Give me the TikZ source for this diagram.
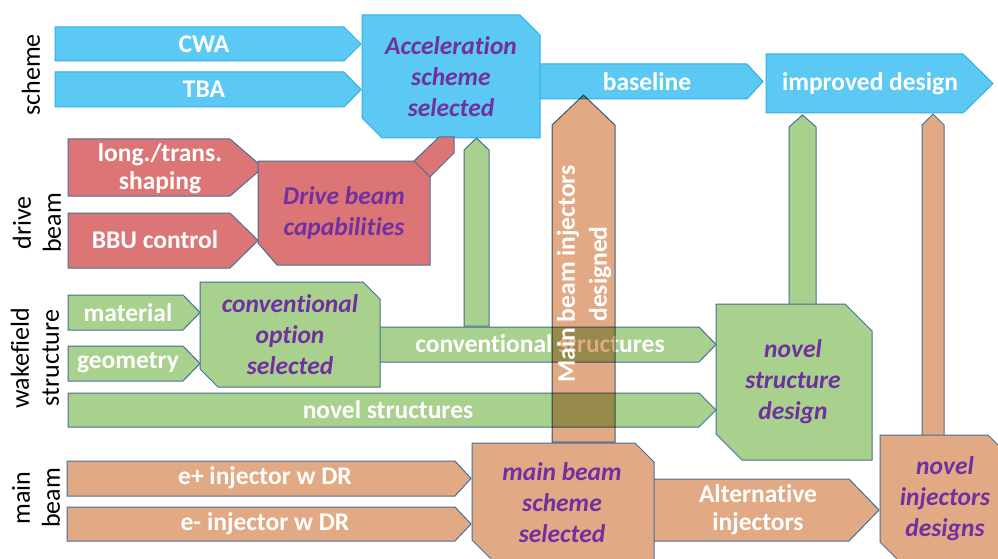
\documentclass[tikz,border=0pt]{standalone}
\usepackage{fontspec}
\setmainfont{Carlito}[Ligatures={NoCommon}]
\definecolor{cblue}{RGB}{91,201,244}
\definecolor{cblueline}{RGB}{45,175,232}
\definecolor{cred}{RGB}{220,118,118}
\definecolor{cgreen}{RGB}{169,209,142}
\definecolor{corange}{RGB}{225,169,132}
\definecolor{cline}{RGB}{70,110,150}
\definecolor{cpurple}{RGB}{112,48,160}
\newcommand\lblfnt{\fontsize{25.5}{28}\selectfont\bfseries}
\newcommand\ttlfnt{\fontsize{25.5}{31}\selectfont\bfseries\itshape}
\newcommand\sidefnt{\fontsize{26}{30}\selectfont}
\tikzset{
  blueshape/.style={fill=cblue, draw=cblueline, line width=1pt, line join=miter},
  redshape/.style={fill=cred, draw=cline, line width=1pt},
  greenshape/.style={fill=cgreen, draw=cline, line width=1pt},
  orangeshape/.style={fill=corange, draw=cline, line width=1pt},
  lbl/.style={text=white, font=\lblfnt, align=center, inner sep=0pt},
  ttl/.style={text=cpurple, font=\ttlfnt, align=center, inner sep=0pt},
  side/.style={text=black, font=\sidefnt, align=center, rotate=90, inner sep=0pt}
}
\begin{document}
\begin{tikzpicture}[x=1pt,y=-1pt]
\useasboundingbox (0,0) rectangle (998,559);
\clip (0,0) rectangle (998,559);
\fill[white] (0,0) rectangle (998,559);

% ---------- scheme row ----------
\path[blueshape] (55,27) -- (344,27) -- (361,44) -- (344,61) -- (55,61) -- cycle;
\path[blueshape] (55,72) -- (344,72) -- (361,89.5) -- (344,107) -- (55,107) -- cycle;
\path[blueshape] (530,64) -- (747,64) -- (763,81.5) -- (747,99) -- (530,99) -- cycle;
\path[blueshape] (766,54) -- (963,54) -- (993,83.5) -- (963,113) -- (766,113) -- cycle;
\path[blueshape] (362,15) -- (520,15) -- (540,35) -- (540,138) -- (382,138) -- (362,118) -- cycle;

% ---------- drive beam row ----------
\path[redshape] (68,139) -- (230,139) -- (263,167.5) -- (230,196) -- (68,196) -- cycle;
\path[redshape] (68,213) -- (230,213) -- (258,240.5) -- (230,268) -- (68,268) -- cycle;
\path[redshape] (414,161) -- (439,137) -- (454,137) -- (454,153) -- (430,177) -- cycle;
\path[redshape] (258,161) -- (414,161) -- (430,177) -- (430,265) -- (277,265) -- (258,243) -- cycle;

% ---------- wakefield structure row ----------
\path[greenshape] (464,326) -- (464,150) -- (476.5,138) -- (489,150) -- (489,326) -- cycle;
\path[greenshape] (375,327) -- (699,327) -- (716,344.5) -- (699,362) -- (375,362) -- cycle;
\path[greenshape] (68,393) -- (699,393) -- (716,410) -- (699,427) -- (68,427) -- cycle;
\path[greenshape] (68,295) -- (183,295) -- (200,312.5) -- (183,330) -- (68,330) -- cycle;
\path[greenshape] (68,346) -- (183,346) -- (200,363.5) -- (183,381) -- (68,381) -- cycle;
\path[greenshape] (200,282) -- (363,282) -- (380,299) -- (380,387) -- (218,387) -- (200,369) -- cycle;
\path[greenshape] (789,305) -- (789,127) -- (802.5,115) -- (816,127) -- (816,305) -- cycle;
\path[greenshape] (716,304) -- (845,304) -- (872,331) -- (872,460) -- (742,460) -- (716,434) -- cycle;

% ---------- main beam row ----------
\path[orangeshape] (922,436) -- (922,125) -- (933,114) -- (944,125) -- (944,436) -- cycle;
\path[orangeshape] (67,461) -- (455,461) -- (471,478.5) -- (455,496) -- (67,496) -- cycle;
\path[orangeshape] (67,507) -- (455,507) -- (471,524) -- (455,541) -- (67,541) -- cycle;
\path[orangeshape] (650,479) -- (849,479) -- (879,510) -- (849,541) -- (650,541) -- cycle;
\path[orangeshape] (472,443) -- (635,443) -- (654,462) -- (654,575) -- (507,575) -- (472,540) -- cycle;
\path[orangeshape] (880,435) -- (988,435) -- (1010,457) -- (1010,580) -- (918,580) -- (880,542) -- cycle;

\node[lbl] (cs) at (540,344) {conventional structures};
\node[lbl] (ns) at (388,410) {novel structures};

% main beam injectors bar, over the green arrows
\begin{scope}[blend mode=multiply]
\path[orangeshape] (552,442) -- (552,125) -- (583.5,95) -- (615,125) -- (615,442) -- cycle;
\end{scope}

% ---------- texts ----------
\node[lbl] (cwa) at (204,44) {CWA};
\node[lbl] (tba) at (204,89) {TBA};
\node[ttl] (acc) at (451,77) {Acceleration\\scheme\\selected};
\node[lbl] (base) at (647,82) {baseline};
\node[lbl] (imp) at (870,84) {improved design};
\node[lbl] (long) at (160,169) {long./trans.\\shaping};
\node[lbl] (bbu) at (155,240) {BBU control};
\node[ttl] (drv) at (344,213) {Drive beam\\capabilities};
\node[lbl] (mat) at (128,313) {material};
\node[lbl] (geo) at (128,363) {geometry};
\node[ttl] (conv) at (290,335) {conventional\\option\\selected};
\node[ttl] (nsd) at (793,382) {novel\\structure\\design};
\node[lbl] (ep) at (265,478) {e+ injector w DR};
\node[lbl] (em) at (265,524) {e- injector w DR};
\node[ttl] (mbs) at (562,503) {main beam\\scheme\\selected};
\node[lbl] (alt) at (758,510) {Alternative\\injectors};
\node[ttl] (nid) at (945,499) {novel\\injectors\\designs};
\node[lbl, rotate=90, font=\fontsize{25.5}{32}\selectfont\bfseries] (mbi) at (584,274) {Main beam injectors\\designed};

\node[side] (s1) at (31,75) {scheme};
\node[side] (s2) at (37,223) {drive\\beam};
\node[side] (s3) at (35,358) {wakefield\\structure};
\node[side] (s4) at (36,498) {main\\beam};
\end{tikzpicture}
\end{document}
